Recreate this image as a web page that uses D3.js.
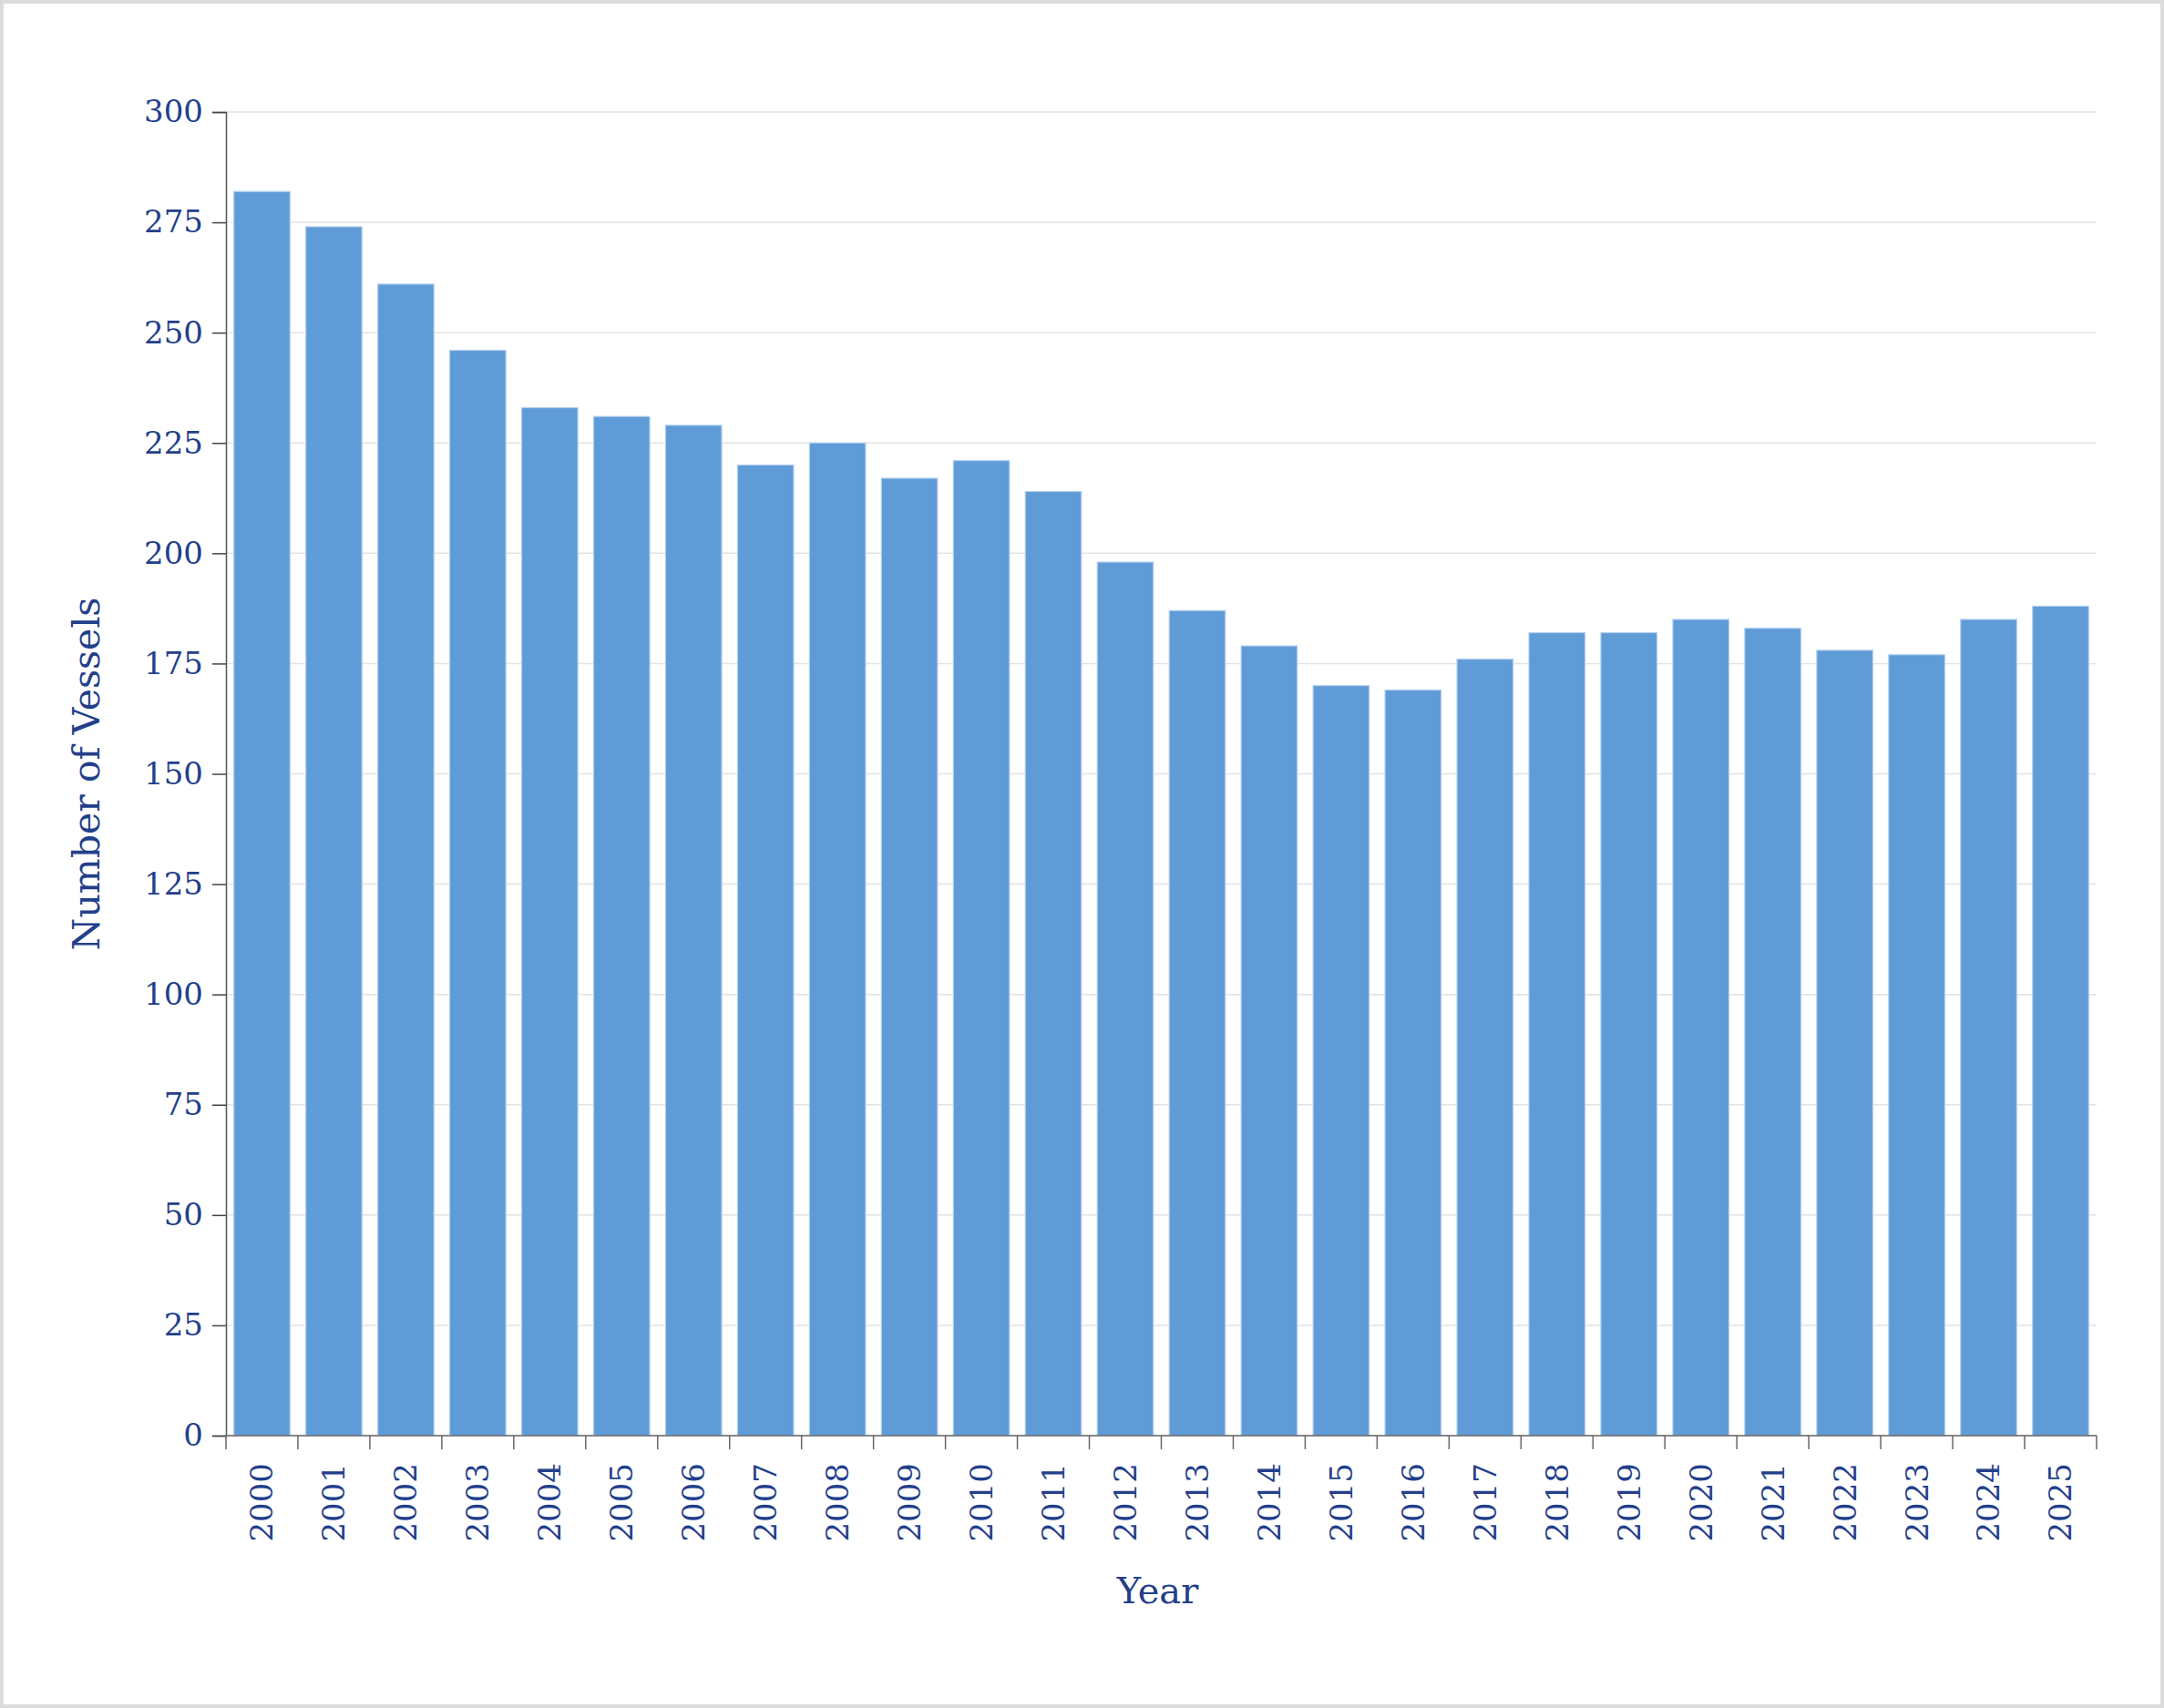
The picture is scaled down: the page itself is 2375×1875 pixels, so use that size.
<!DOCTYPE html>
<html>
<head>
<meta charset="utf-8">
<script src="https://cdn.jsdelivr.net/npm/d3@7"></script>
<style>
  html, body { margin: 0; padding: 0; background: #fff; }
  svg { display: block; }
  text { font-family: "DejaVu Serif", "Liberation Serif", serif; fill: #233f8b; }
</style>
</head>
<body>
<svg id="canvas" width="2375" height="1875"></svg>
<script>
(function() {
  // chart data
  var years = ["2000","2001","2002","2003","2004","2005","2006","2007","2008","2009",
               "2010","2011","2012","2013","2014","2015","2016","2017","2018","2019",
               "2020","2021","2022","2023","2024","2025"];
  var vessels = [282, 274, 261, 246, 233, 231, 229, 220, 225, 217,
                 221, 214, 198, 187, 179, 170, 169, 176, 182, 182,
                 185, 183, 178, 177, 185, 188];
  var yTicks = [0, 25, 50, 75, 100, 125, 150, 175, 200, 225, 250, 275, 300];

  var width = 2375, height = 1875;
  var margin = {top: 123, right: 74, bottom: 299, left: 248};
  var innerW = width - margin.left - margin.right;
  var innerH = height - margin.top - margin.bottom;

  var svg = d3.select("#canvas");

  // outer frame
  svg.append("rect")
    .attr("x", 2).attr("y", 2)
    .attr("width", width - 4).attr("height", height - 4)
    .attr("fill", "#fff")
    .attr("stroke", "#dcdcdc")
    .attr("stroke-width", 4);

  var g = svg.append("g").attr("transform", "translate(" + margin.left + "," + margin.top + ")");

  var x = d3.scaleBand().domain(years).range([0, innerW]).paddingInner(0.22).paddingOuter(0.11);
  var y = d3.scaleLinear().domain([0, 300]).range([innerH, 0]);

  // gridlines
  g.append("g")
    .selectAll("line")
    .data(yTicks)
    .join("line")
      .attr("x1", 0).attr("x2", innerW)
      .attr("y1", d => y(d)).attr("y2", d => y(d))
      .attr("stroke", "#e3e3e3")
      .attr("stroke-width", 1.5);

  // bars
  g.append("g")
    .selectAll("rect")
    .data(years)
    .join("rect")
      .attr("x", d => x(d))
      .attr("width", x.bandwidth())
      .attr("y", (d, i) => y(vessels[i]))
      .attr("height", (d, i) => y(0) - y(vessels[i]))
      .attr("fill", "#5f9bd6")
      .attr("stroke", "#b4d0ef")
      .attr("stroke-width", 1.2);

  // y axis
  var yAxis = g.append("g")
    .call(d3.axisLeft(y).tickValues(yTicks).tickSize(15).tickPadding(10));
  yAxis.select(".domain").attr("stroke", "#555").attr("stroke-width", 1.5);
  yAxis.selectAll(".tick line").attr("stroke", "#444").attr("stroke-width", 1.5);
  yAxis.selectAll(".tick text")
    .attr("font-size", 34)
    .style("font-family", "DejaVu Serif, serif")
    .attr("fill", "#233f8b");

  // x axis, ticks on band edges
  var xAxis = g.append("g").attr("transform", "translate(0," + innerH + ")");
  xAxis.append("line")
    .attr("x1", 0).attr("x2", innerW)
    .attr("stroke", "#666").attr("stroke-width", 1.5);
  var step = innerW / years.length;
  xAxis.selectAll("line.edge")
    .data(d3.range(years.length + 1))
    .join("line")
      .attr("class", "edge")
      .attr("x1", d => d * step).attr("x2", d => d * step)
      .attr("y1", 0).attr("y2", 15)
      .attr("stroke", "#666").attr("stroke-width", 1.5);
  xAxis.selectAll("text")
    .data(years)
    .join("text")
      .attr("transform", d => "translate(" + (x(d) + x.bandwidth() / 2) + ",30) rotate(-90)")
      .attr("text-anchor", "end")
      .attr("dy", "0.35em")
      .attr("font-size", 34)
      .text(d => d);

  // axis titles
  svg.append("text")
    .attr("x", margin.left + innerW / 2 - 4)
    .attr("y", 1760)
    .attr("text-anchor", "middle")
    .attr("font-size", 40)
    .text("Year");

  svg.append("text")
    .attr("transform", "translate(109," + (margin.top + innerH / 2) + ") rotate(-90)")
    .attr("text-anchor", "middle")
    .attr("font-size", 41)
    .text("Number of Vessels");
})();
</script>
</body>
</html>
